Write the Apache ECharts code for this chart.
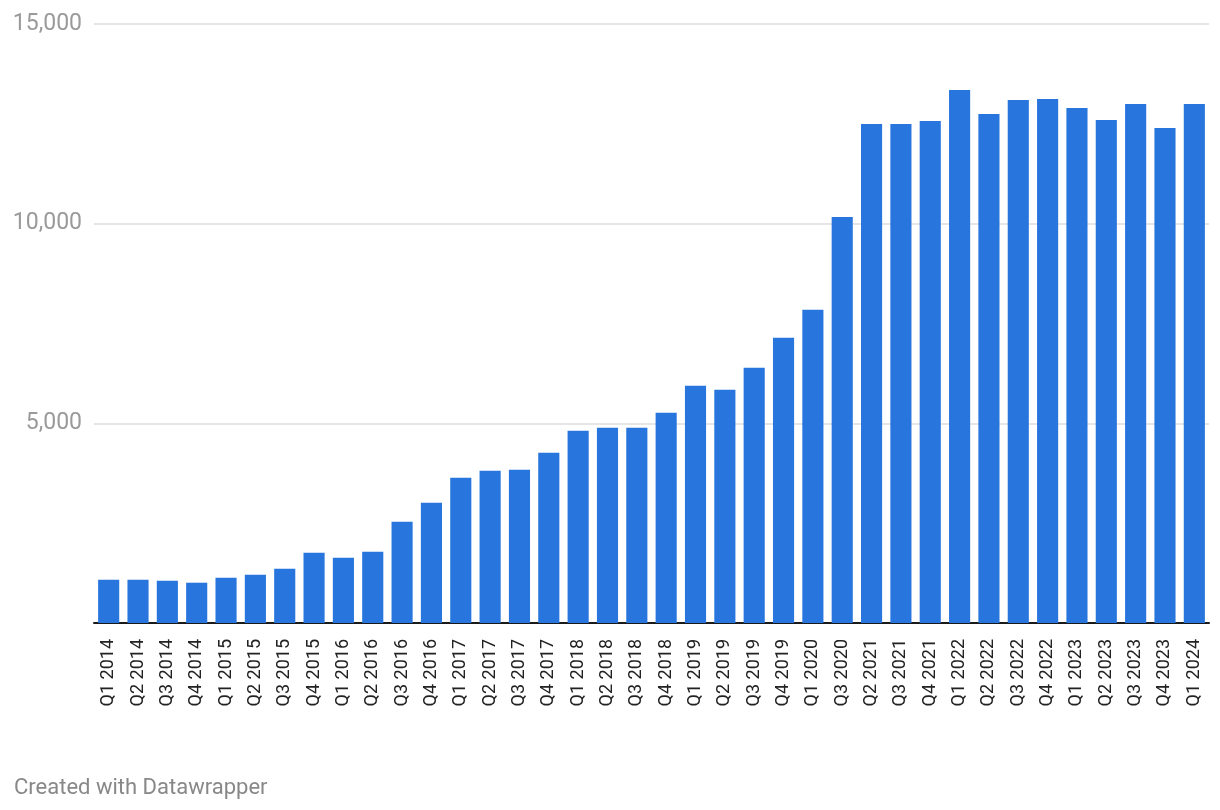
<!DOCTYPE html>
<html>
<head>
<meta charset="utf-8">
<script src="https://cdn.jsdelivr.net/npm/echarts@6/dist/echarts.min.js"></script>
<style>
html,body{margin:0;padding:0;background:#fff;}
#chart{width:1220px;height:810px;}
</style>
</head>
<body>
<div id="chart"></div>
<script>
const categories = ["Q1 2014","Q2 2014","Q3 2014","Q4 2014","Q1 2015","Q2 2015","Q3 2015","Q4 2015","Q1 2016","Q2 2016","Q3 2016","Q4 2016","Q1 2017","Q2 2017","Q3 2017","Q4 2017","Q1 2018","Q2 2018","Q3 2018","Q4 2018","Q1 2019","Q2 2019","Q3 2019","Q4 2019","Q1 2020","Q3 2020","Q2 2021","Q3 2021","Q4 2021","Q1 2022","Q2 2022","Q3 2022","Q4 2022","Q1 2023","Q2 2023","Q3 2023","Q4 2023","Q1 2024"];
const values = [1084,1084,1059,1009,1134,1209,1359,1760,1635,1785,2535,3011,3637,3812,3837,4263,4813,4888,4888,5264,5940,5840,6391,7142,7842,10170,12498,12498,12573,13349,12748,13099,13124,12899,12598,12999,12398,12999];
const yTicks = [0,5000,10000,15000];
const footer = "Created with Datawrapper";

const chart = echarts.init(document.getElementById('chart'), null, {renderer:'canvas'});
chart.setOption({
  animation:false,
  backgroundColor:'#ffffff',
  title:{
    text: footer,
    left: 9, top: 772,
    textStyle:{fontFamily:'Roboto', fontSize:22, fontWeight:'normal', color:'#888888'}
  },
  grid:{left:94, right:11, top:24, bottom:187, containLabel:false},
  xAxis:{
    type:'category',
    data:categories,
    axisLine:{show:true, lineStyle:{color:'#1a1a1a', width:2}},
    axisTick:{show:false},
    axisLabel:{rotate:90, interval:0, margin:16, fontFamily:'Roboto', fontSize:18, color:'#222222'}
  },
  yAxis:{
    type:'value',
    min:yTicks[0], max:yTicks[yTicks.length-1], interval:5000,
    axisLine:{show:false},
    axisTick:{show:false},
    splitLine:{show:true, lineStyle:{color:'#e6e6e6', width:2}},
    axisLabel:{
      margin:12, fontFamily:'Roboto', fontSize:23, color:'#9a9a9a',
      formatter:function(v){ return v===0 ? '' : v.toLocaleString('en-US'); }
    }
  },
  series:[{
    type:'bar',
    data:values,
    barCategoryGap:'28%',
    itemStyle:{color:'#2876dd'}
  }]
});
</script>
</body>
</html>
